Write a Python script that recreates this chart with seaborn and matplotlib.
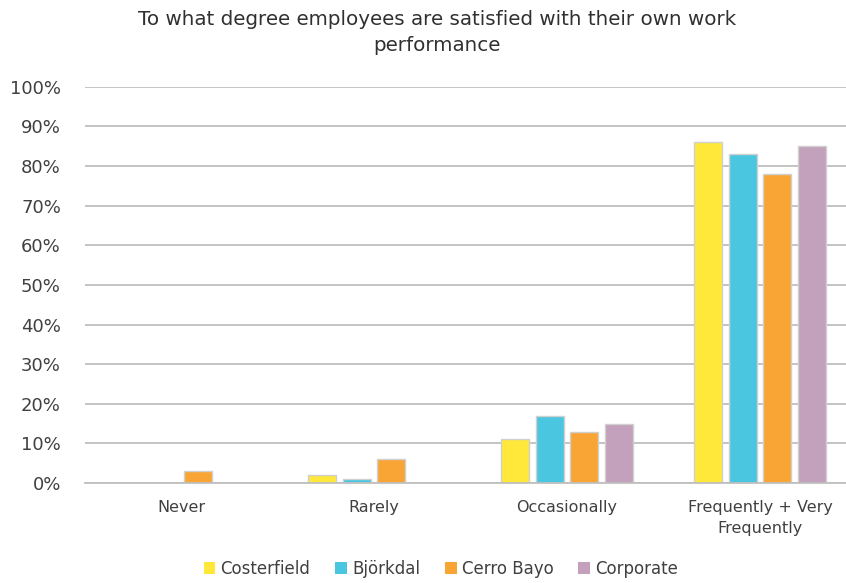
import pandas as pd
import seaborn as sns
import matplotlib.pyplot as plt
from matplotlib.ticker import PercentFormatter
from matplotlib.patches import Patch

categories = ['Never', 'Rarely', 'Occasionally', 'Frequently + Very\nFrequently']
sites = ['Costerfield', 'Björkdal', 'Cerro Bayo', 'Corporate']
costerfield = [0, 2, 11, 86]
bjorkdal = [0, 1, 17, 83]
cerro_bayo = [3, 6, 13, 78]
corporate = [0, 0, 15, 85]
colors = ['#FFE83A', '#4BC6E0', '#F9A535', '#C3A1BC']

rows = []
for site, vals in zip(sites, [costerfield, bjorkdal, cerro_bayo, corporate]):
    for cat, v in zip(categories, vals):
        rows.append({'category': cat, 'site': site, 'value': v})
df = pd.DataFrame(rows)

sns.set_style('white')
plt.rcParams['font.family'] = ['DejaVu Sans']

fig = plt.figure(figsize=(8.46, 5.83), dpi=100)
# plot area runs a little past the right edge, as in the source image
ax = fig.add_axes([0.0999, 0.1715, 0.9125, 0.6795])

ax.yaxis.grid(True, color='#BFBFBF', linewidth=1.3, zorder=0)
ax.set_axisbelow(True)
sns.barplot(data=df, x='category', y='value', hue='site', palette=colors,
            saturation=1, width=0.72, gap=0.19, edgecolor='#D0D0D0', linewidth=1,
            legend=False, ax=ax)

ax.set_ylim(0, 100)
ax.set_yticks(range(0, 101, 10))
ax.yaxis.set_major_formatter(PercentFormatter(decimals=0))
ax.set_xlim(-0.5, 3.5)
ax.set_xlabel('')
ax.set_ylabel('')
for s in ['left', 'right', 'top']:
    ax.spines[s].set_visible(False)
ax.spines['bottom'].set_color('#BFBFBF')
ax.spines['bottom'].set_linewidth(1.3)
ax.tick_params(axis='y', labelsize=13, colors='#404040', length=0, pad=17)
ax.tick_params(axis='x', labelsize=11.5, colors='#404040', length=0, pad=12)
for lbl in ax.get_xticklabels():
    lbl.set_linespacing(1.55)

fig.suptitle('To what degree employees are satisfied with their own work\nperformance',
             x=0.517, fontsize=14.3, color='#303030', y=0.982, linespacing=1.45)

handles = [Patch(facecolor=c, edgecolor='none') for c in colors]
fig.legend(handles, sites, loc='lower center', ncol=4, frameon=False,
           bbox_to_anchor=(0.521, -0.017), fontsize=12, handlelength=0.7,
           handleheight=0.7, handletextpad=0.3, columnspacing=1.5,
           labelcolor='#404040')

fig.savefig('out.png', dpi=100)
